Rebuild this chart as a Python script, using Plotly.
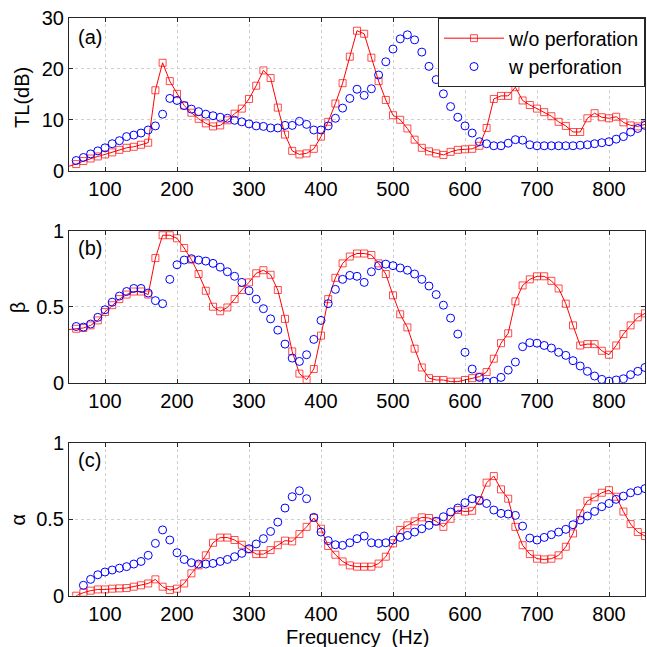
import plotly.graph_objects as go

# ---------------- data ----------------
freq = list(range(60, 851, 10))
freq_edge = 50  # red curve starts at the left axis edge in panels (a) and (b)

red_a_edge = 0.9
red_a = [1.3, 1.9, 2.4, 2.8, 3.2, 3.6, 4.1, 4.5, 4.7, 5.1,
         5.5, 15.8, 21.2, 17.6, 15.1, 12.8, 11.4, 10.2, 9.3, 8.7,
         8.9, 9.9, 11.2, 12.2, 14.1, 16.7, 19.7, 18.2, 12.4, 7.1,
         3.9, 3.2, 3.4, 4.3, 6.7, 9.6, 13.2, 17.2, 22.4, 27.5,
         26.9, 22.2, 17.6, 13.9, 10.9, 10.0, 8.3, 6.1, 4.5, 3.8,
         3.4, 3.1, 3.7, 4.1, 4.2, 4.3, 4.9, 8.4, 14.1, 14.7,
         14.7, 16.4, 13.8, 12.9, 12.2, 11.5, 10.7, 9.6, 8.8, 7.6,
         7.6, 10.3, 11.3, 10.5, 10.3, 10.6, 9.5, 8.9, 8.7, 9.1]
blue_a = [2.0, 2.6, 3.3, 3.9, 4.5, 5.3, 5.9, 6.7, 7.0, 7.4,
          8.0, 8.8, 11.1, 14.2, 13.8, 12.8, 12.1, 11.6, 11.1, 10.8,
          10.5, 10.3, 9.9, 9.6, 9.2, 8.8, 8.7, 8.4, 8.4, 8.9,
          8.9, 9.7, 9.1, 8.0, 8.0, 8.8, 10.3, 12.3, 14.2, 16.0,
          14.8, 16.1, 18.8, 21.4, 23.9, 25.9, 26.7, 25.7, 23.3, 20.5,
          17.9, 15.1, 12.6, 10.5, 8.8, 7.4, 5.7, 5.3, 4.9, 4.9,
          5.4, 6.1, 6.0, 5.1, 4.9, 4.9, 4.9, 4.9, 4.9, 4.9,
          5.0, 5.1, 5.3, 5.5, 5.7, 6.2, 6.7, 7.6, 8.3, 8.9]

red_b_edge = 0.35
red_b = [0.355, 0.36, 0.377, 0.41, 0.465, 0.51, 0.55, 0.58, 0.60, 0.60,
         0.58, 0.82, 0.97, 0.97, 0.95, 0.886, 0.81, 0.715, 0.605, 0.50,
         0.47, 0.495, 0.55, 0.61, 0.66, 0.72, 0.74, 0.71, 0.61, 0.42,
         0.206, 0.06, 0.02, 0.09, 0.31, 0.55, 0.69, 0.785, 0.83, 0.85,
         0.85, 0.84, 0.785, 0.715, 0.575, 0.45, 0.364, 0.224, 0.10, 0.03,
         0.018, 0.018, 0.007, 0.007, 0.018, 0.03, 0.04, 0.07, 0.158, 0.26,
         0.325, 0.535, 0.64, 0.68, 0.70, 0.70, 0.67, 0.62, 0.52, 0.377,
         0.245, 0.254, 0.254, 0.21, 0.184, 0.245, 0.32, 0.377, 0.43, 0.456]
blue_b = [0.37, 0.366, 0.386, 0.43, 0.48, 0.53, 0.57, 0.60, 0.62, 0.62,
          0.59, 0.54, 0.52, 0.68, 0.776, 0.807, 0.816, 0.807, 0.80, 0.785,
          0.76, 0.73, 0.70, 0.66, 0.605, 0.55, 0.487, 0.42, 0.346, 0.254,
          0.162, 0.14, 0.184, 0.285, 0.41, 0.52, 0.614, 0.68, 0.706, 0.70,
          0.66, 0.73, 0.77, 0.78, 0.77, 0.755, 0.74, 0.715, 0.68, 0.636,
          0.58, 0.51, 0.425, 0.32, 0.20, 0.09, 0.035, 0.004, 0.01, 0.035,
          0.083, 0.136, 0.237, 0.263, 0.26, 0.245, 0.228, 0.20, 0.18, 0.145,
          0.11, 0.075, 0.044, 0.022, 0.01, 0.018, 0.026, 0.053, 0.075, 0.10]

red_c = [0.0, 0.02, 0.033, 0.041, 0.041, 0.046, 0.048, 0.05, 0.059, 0.068,
         0.08, 0.107, 0.059, 0.037, 0.046, 0.08, 0.146, 0.198, 0.264, 0.346,
         0.38, 0.38, 0.364, 0.333, 0.303, 0.272, 0.272, 0.298, 0.33, 0.36,
         0.355, 0.403, 0.45, 0.508, 0.438, 0.325, 0.268, 0.224, 0.198, 0.19,
         0.19, 0.19, 0.21, 0.255, 0.342, 0.43, 0.46, 0.486, 0.512, 0.508,
         0.486, 0.45, 0.503, 0.56, 0.55, 0.555, 0.625, 0.739, 0.782, 0.695,
         0.634, 0.45, 0.33, 0.272, 0.242, 0.237, 0.242, 0.264, 0.32, 0.407,
         0.538, 0.62, 0.643, 0.673, 0.69, 0.647, 0.55, 0.468, 0.416, 0.39]
blue_c = [None, 0.068, 0.107, 0.137, 0.155, 0.168, 0.18, 0.19, 0.207, 0.224,
          0.264, 0.342, 0.43, 0.364, 0.281, 0.237, 0.216, 0.207, 0.207, 0.211,
          0.224, 0.237, 0.255, 0.277, 0.307, 0.338, 0.373, 0.42, 0.481, 0.573,
          0.647, 0.686, 0.634, 0.512, 0.416, 0.36, 0.333, 0.329, 0.346, 0.373,
          0.39, 0.346, 0.342, 0.346, 0.364, 0.381, 0.394, 0.416, 0.438, 0.46,
          0.486, 0.516, 0.547, 0.573, 0.608, 0.634, 0.621, 0.603, 0.56, 0.538,
          0.534, 0.525, 0.455, 0.377, 0.364, 0.381, 0.399, 0.416, 0.434, 0.464,
          0.495, 0.521, 0.551, 0.582, 0.603, 0.63, 0.651, 0.673, 0.686, 0.70]

x_ticks = [100, 200, 300, 400, 500, 600, 700, 800]
legend_names = ["w/o perforation", "w perforation"]
y_titles = ["TL(dB)", "β", "α"]
panel_tags = ["(a)", "(b)", "(c)"]

# ---------------- figure ----------------
FONT = "Liberation Sans, Arial, Helvetica, sans-serif"
RED = "#ff0000"
BLUE = "#0000ff"
SQ = 7
CI = 8

fig = go.Figure()

panels = [
    ("x", "y", [freq_edge] + freq, [red_a_edge] + red_a, [0] + [SQ] * len(freq), blue_a, True),
    ("x2", "y2", [freq_edge] + freq, [red_b_edge] + red_b, [0] + [SQ] * len(freq), blue_b, False),
    ("x3", "y3", freq, red_c, [SQ] * len(freq), blue_c, False),
]
for xa, ya, rx, ry, rsize, by, show in panels:
    fig.add_trace(go.Scatter(
        x=rx, y=ry, mode="lines+markers", name=legend_names[0],
        line=dict(color=RED, width=1),
        marker=dict(symbol="square-open", size=rsize, color=RED, line=dict(width=1, color=RED)),
        xaxis=xa, yaxis=ya, showlegend=show, legendrank=1))
    fig.add_trace(go.Scatter(
        x=freq, y=by, mode="markers", name=legend_names[1],
        marker=dict(symbol="circle-open", size=CI, color=BLUE, line=dict(width=1, color=BLUE)),
        xaxis=xa, yaxis=ya, showlegend=show, legendrank=2))

AX = "#262626"
GRID = "#cfcfcf"
common_x = dict(range=[50, 850], tickvals=x_ticks, showgrid=True, gridcolor=GRID,
                griddash="dot", gridwidth=1, showline=True, linecolor=AX, linewidth=1,
                mirror="ticks", ticks="inside", ticklen=4, tickcolor=AX, zeroline=False,
                tickfont=dict(size=20, color="black", family=FONT), domain=[0, 1])
common_y = dict(showgrid=True, gridcolor=GRID, griddash="dot", gridwidth=1,
                showline=True, linecolor=AX, linewidth=1, mirror="ticks", ticks="inside",
                ticklen=4, tickcolor=AX, zeroline=False,
                tickfont=dict(size=20, color="black", family=FONT))

doms = [[0.7358, 1.0], [0.369, 0.632], [0.0005, 0.2652]]

fig.update_layout(
    width=647, height=647,
    margin=dict(l=69, r=2, t=18, b=51),
    paper_bgcolor="white", plot_bgcolor="white",
    font=dict(family=FONT, size=20, color="black"),
    xaxis=dict(common_x, anchor="y"),
    xaxis2=dict(common_x, anchor="y2"),
    xaxis3=dict(common_x, anchor="y3"),
    yaxis=dict(common_y, range=[0, 30], tickvals=[0, 10, 20, 30], domain=doms[0], anchor="x"),
    yaxis2=dict(common_y, range=[0, 1], tickvals=[0, 0.5, 1], ticktext=["0", "0.5", "1"], domain=doms[1], anchor="x2"),
    yaxis3=dict(common_y, range=[0, 1], tickvals=[0, 0.5, 1], ticktext=["0", "0.5", "1"], domain=doms[2], anchor="x3"),
    legend=dict(x=1, xanchor="right", y=1, yanchor="top", bgcolor="white",
                bordercolor=AX, borderwidth=1, font=dict(size=19.5, family=FONT, color="black"),
                itemwidth=60, tracegroupgap=0),
    showlegend=True,
)

# panel tags
tag_y = [0.967, 0.602, 0.235]
for t, yy in zip(panel_tags, tag_y):
    fig.add_annotation(text=t, xref="paper", yref="paper", x=0.012, y=yy,
                       xanchor="left", yanchor="middle", showarrow=False,
                       font=dict(size=20, family=FONT, color="black"))

# y-axis titles
title_y = [0.863, 0.5, 0.133]
title_x = [-0.082, -0.088, -0.088]
for t, xx, yy in zip(y_titles, title_x, title_y):
    fig.add_annotation(text=t, xref="paper", yref="paper", x=xx, y=yy,
                       xanchor="center", yanchor="middle", showarrow=False, textangle=-90,
                       font=dict(size=20, family=FONT, color="black"))

# x-axis title
fig.add_annotation(text="Frequency  (Hz)", xref="paper", yref="paper", x=0.5, y=-0.071,
                   xanchor="center", yanchor="middle", showarrow=False,
                   font=dict(size=20, family=FONT, color="black"))

fig.write_html("out.html", config={"displayModeBar": False},
               post_script="document.body.style.margin='0';document.body.style.overflow='hidden';")
